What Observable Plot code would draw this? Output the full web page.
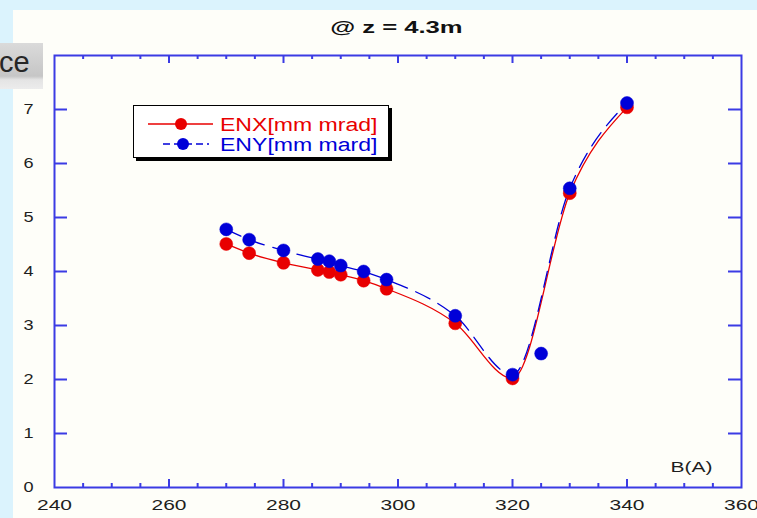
<!DOCTYPE html>
<html>
<head>
<meta charset="utf-8">
<script src="https://cdn.jsdelivr.net/npm/d3@7"></script>
<script src="https://cdn.jsdelivr.net/npm/@observablehq/plot@0.6"></script>
<style>
  html, body { margin: 0; padding: 0; }
  body {
    width: 757px; height: 518px; overflow: hidden; position: relative;
    background: #dbf3fd;
    font-family: "Liberation Sans", Arial, sans-serif;
  }
  #panel { position: absolute; left: 13px; top: 10px; right: 0; bottom: 0; background: #fefef9; }
  #tag {
    position: absolute; left: 0; top: 43px; width: 43px; height: 46px; overflow: hidden;
    background: linear-gradient(#dadada, #c6c6c6 72%, #e4e4e4 80%, #ececec);
  }
  #tag span { position: absolute; left: -1px; top: 3px; font-size: 29px; color: #262626; }
  #title {
    position: absolute; left: 0; top: 19px; width: 792px; text-align: center;
    font-weight: bold; font-size: 16px; line-height: 18px; color: #111;
  }
  #title span { display: inline-block; transform: scaleX(1.6); }
  #chart { position: absolute; left: 0; top: 0; }
  #legend {
    position: absolute; left: 133px; top: 105px; width: 254px; height: 51px;
    background: #fff; border: 1px solid #000; box-shadow: 3px 3px 0 #000;
  }
  #legend svg { display: block; }
</style>
</head>
<body>
<div id="panel"></div>
<div id="tag"><span>ce</span></div>
<div id="title"><span>@ z = 4.3m</span></div>
<div id="chart"></div>
<div id="legend"></div>
<script>
// Magnet current B (A) and normalised emittance readings
const enxB = [270, 274, 280, 286, 288, 290, 294, 298, 310, 320, 330, 340];
const enx  = [4.51, 4.34, 4.16, 4.03, 3.99, 3.94, 3.83, 3.68, 3.04, 2.02, 5.45, 7.04];
const enyB = [270, 274, 280, 286, 288, 290, 294, 298, 310, 320, 325, 330, 340];
const eny  = [4.78, 4.59, 4.39, 4.23, 4.19, 4.11, 4.00, 3.85, 3.18, 2.09, 2.48, 5.54, 7.12];

// Series names and colours
const seriesNames = ["ENX[mm mrad]", "ENY[mm mard]"];
const seriesColors = ["#e80000", "#0000d8"];

// Axis ticks
const xLabels = [240, 260, 280, 300, 320, 340, 360];
const xMajor = [260, 280, 300, 320, 340];
const xMinor = d3.range(245, 360, 5).filter(v => v % 20 !== 0);
const yLabels = [0, 1, 2, 3, 4, 5, 6, 7];
const yMajor = [1, 2, 3, 4, 5, 6, 7];
const axisLabel = "B(A)";

const ENX = enxB.map((b, i) => ({b, v: enx[i]}));
const ENY = enyB.map((b, i) => ({b, v: eny[i]}));
// the 325 A point is off the fitted ENY curve, so the curve skips it
const ENYcurve = ENY.filter(d => d.b !== 325);

const W = 757, H = 518;
const mL = 54, mR = 16, mT = 55, mB = 31;
const innerW = W - mL - mR, innerH = H - mT - mB;
const frameColor = "#3b3be4";

const chart = Plot.plot({
  width: W, height: H,
  marginLeft: mL, marginRight: mR, marginTop: mT, marginBottom: mB,
  x: {domain: [240, 360]},
  y: {domain: [0, 8]},
  style: {fontFamily: "'Liberation Sans', Arial, sans-serif", fontSize: "14px", color: "#1e1e1e", background: "transparent", overflow: "visible"},
  marks: [
    // inward ticks on all four sides of the frame
    Plot.tickX(xMajor, {x: d => d, insetTop: innerH - 8, stroke: frameColor, strokeWidth: 2}),
    Plot.tickX(xMinor, {x: d => d, insetTop: innerH - 4, stroke: frameColor, strokeWidth: 2}),
    Plot.tickX(xMajor, {x: d => d, insetBottom: innerH - 8, stroke: frameColor, strokeWidth: 2}),
    Plot.tickX(xMinor, {x: d => d, insetBottom: innerH - 4, stroke: frameColor, strokeWidth: 2}),
    Plot.tickY(yMajor, {y: d => d, insetRight: innerW - 13, stroke: frameColor, strokeWidth: 2}),
    Plot.tickY(yMajor, {y: d => d, insetLeft: innerW - 13, stroke: frameColor, strokeWidth: 2}),
    Plot.frame({stroke: frameColor, strokeWidth: 2}),
    Plot.axisX({ticks: xLabels, tickSize: 0, tickPadding: 13, tickFormat: d => String(d), label: null}),
    Plot.axisY({ticks: yLabels, tickSize: 0, tickPadding: 21, tickFormat: d => String(d), label: null}),
    Plot.text([axisLabel], {text: d => d, frameAnchor: "bottom-right", dx: -29, dy: -16, fontSize: 15, fill: "#1e1e1e"}),
    // ENX: solid smooth curve
    Plot.line(ENX, {x: "b", y: "v", curve: "monotone-x", stroke: seriesColors[0], strokeWidth: 1.3}),
    Plot.dot(ENX, {x: "b", y: "v", r: 6.5, fill: seriesColors[0], stroke: seriesColors[0], strokeWidth: 0.5}),
    // ENY: dashed smooth curve
    Plot.line(ENYcurve, {x: "b", y: "v", curve: "monotone-x", stroke: seriesColors[1], strokeWidth: 1.3, strokeDasharray: "16,9"}),
    Plot.dot(ENY, {x: "b", y: "v", r: 6.5, fill: seriesColors[1], stroke: seriesColors[1], strokeWidth: 0.5})
  ]
});
document.getElementById("chart").append(chart);

// widen text glyphs horizontally
function widen(el, k) {
  const w = el.getComputedTextLength();
  el.setAttribute("textLength", (w * k).toFixed(1));
  el.setAttribute("lengthAdjust", "spacingAndGlyphs");
}
chart.querySelectorAll('[aria-label="x-axis tick label"] text').forEach(t => widen(t, 1.5));
chart.querySelectorAll('[aria-label="y-axis tick label"] text').forEach(t => widen(t, 1.3));
chart.querySelectorAll('[aria-label="text"] text').forEach(t => widen(t, 1.4));

// legend box
const leg = d3.select("#legend").append("svg").attr("width", 254).attr("height", 51);
const rows = [
  {y: 18, x1: 14, x2: 79, cx: 47, dash: null},
  {y: 38, x1: 29, x2: 75, cx: 49, dash: "7,4"}
];
rows.forEach((r, i) => {
  leg.append("line").attr("x1", r.x1).attr("x2", r.x2).attr("y1", r.y).attr("y2", r.y)
    .attr("stroke", seriesColors[i]).attr("stroke-width", 1.3).attr("stroke-dasharray", r.dash);
  leg.append("circle").attr("cx", r.cx).attr("cy", r.y).attr("r", 6).attr("fill", seriesColors[i]);
  const t = leg.append("text").attr("x", 86).attr("y", r.y + 7).attr("fill", seriesColors[i])
    .attr("font-family", "'Liberation Sans', Arial, sans-serif").attr("font-size", 18)
    .text(seriesNames[i]);
  widen(t.node(), 1.28);
});
</script>
</body>
</html>
